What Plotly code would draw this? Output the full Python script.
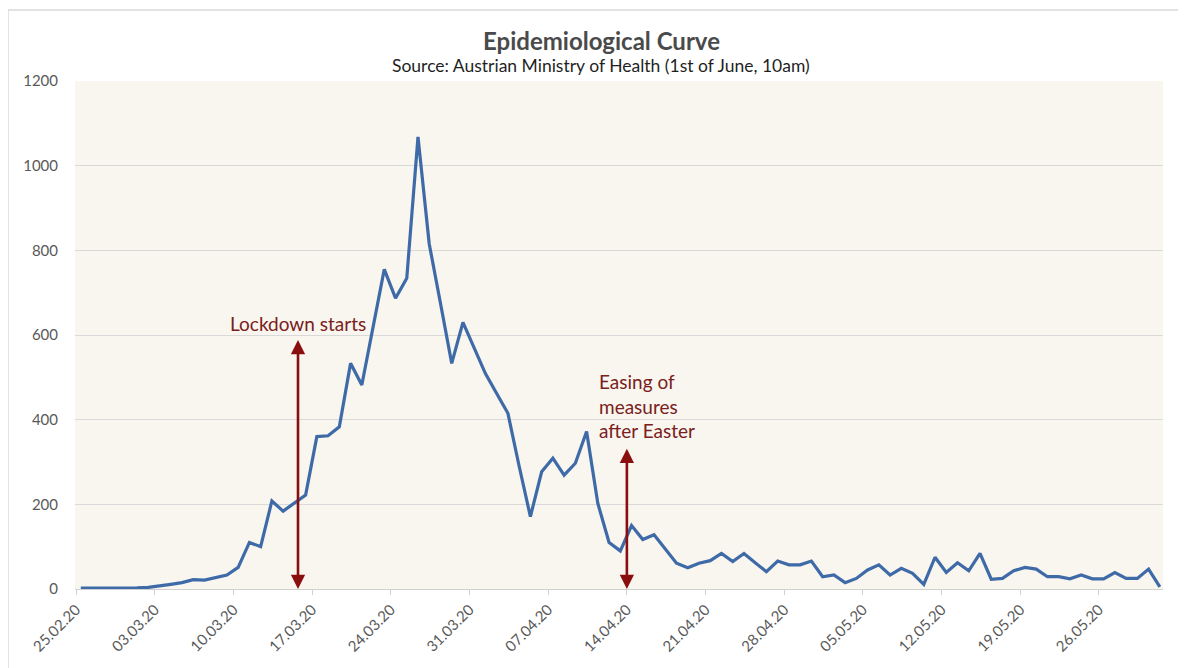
import plotly.graph_objects as go
import pandas as pd

start_date = "2020-02-25"
n_days = 97
cases = [2, 2, 2, 2, 3, 3, 4, 7, 11, 15, 22, 21, 27, 33, 51, 110, 100, 208, 184, 203,
         222, 360, 362, 383, 533, 482, 620, 755, 687, 734, 1068, 815, 675, 533, 630, 570,
         509, 462, 415, 290, 171, 277, 309, 269, 297, 372, 202, 110, 90, 150, 117, 128,
         95, 61, 50, 61, 67, 84, 65, 84, 62, 41, 66, 57, 57, 66, 29, 33, 15, 25, 45, 57,
         33, 49, 37, 11, 75, 39, 62, 43, 84, 23, 25, 43, 51, 47, 29, 29, 24, 33, 24, 24,
         39, 25, 25, 47, 5]
dates = pd.date_range(start_date, periods=n_days)

tick_labels = ["25.02.20", "03.03.20", "10.03.20", "17.03.20", "24.03.20", "31.03.20",
               "07.04.20", "14.04.20", "21.04.20", "28.04.20", "05.05.20", "12.05.20",
               "19.05.20", "26.05.20"]
# tick marks sit slightly before the day's data point, as in the original chart
tick_positions = [pd.to_datetime(t, format="%d.%m.%y") - pd.Timedelta(hours=10)
                  for t in tick_labels]

title_text = "Epidemiological Curve"
subtitle_text = "Source: Austrian Ministry of Health (1st of June, 10am)"
lockdown_date = "2020-03-15 07:45"
lockdown_top = 592
lockdown_label = "Lockdown starts"
easing_date = "2020-04-13 14:00"
easing_top = 335
easing_label = "Easing of<br>measures<br>after Easter"

line_color = "#3F6AA8"
arrow_color = "#8B0E0E"
label_color = "#7A2020"
font_family = "Lato, 'Noto Sans', sans-serif"

fig = go.Figure()
fig.add_trace(go.Scatter(x=dates, y=cases, mode="lines",
                         line=dict(color=line_color, width=3.2), showlegend=False,
                         hoverinfo="x+y"))

# arrows
for d, top in [(lockdown_date, lockdown_top), (easing_date, easing_top)]:
    fig.add_annotation(x=d, y=0, ax=d, ay=top, xref="x", yref="y", axref="x", ayref="y",
                       text="", showarrow=True, arrowhead=2, arrowside="end+start",
                       arrowsize=1.1, arrowwidth=2.6, arrowcolor=arrow_color)

fig.add_annotation(x=lockdown_date, y=628, xref="x", yref="y",
                   text=lockdown_label, showarrow=False, yanchor="middle",
                   font=dict(family=font_family, size=19, color=label_color))
fig.add_annotation(x="2020-04-10 22:00", y=432, xref="x", yref="y",
                   text=easing_label, showarrow=False, xanchor="left", yanchor="middle",
                   align="left",
                   font=dict(family=font_family, size=19, color=label_color))

# titles
fig.add_annotation(x=0.4835, y=1.079, xref="paper", yref="paper", text=title_text,
                   showarrow=False, yanchor="middle",
                   font=dict(family=font_family, size=24, color="#4A4A4A", weight="bold"))
fig.add_annotation(x=0.4835, y=1.031, xref="paper", yref="paper", text=subtitle_text,
                   showarrow=False, yanchor="middle",
                   font=dict(family=font_family, size=17.5, color="#1F1F1F"))

# outer chart border
fig.add_shape(type="rect", xref="paper", yref="paper", x0=-0.0616, x1=1.0165,
              y0=-0.2, y1=1.1398, line=dict(color="#D9D9D9", width=1.5),
              fillcolor="rgba(0,0,0,0)", layer="below")

fig.update_layout(
    width=1186, height=668,
    margin=dict(l=67, r=31, t=73, b=87),
    paper_bgcolor="white",
    plot_bgcolor="#F8F6EF",
    font=dict(family=font_family, size=15, color="#595959"),
    xaxis=dict(
        type="date",
        range=["2020-02-24 11:36", "2020-05-31 06:45"],
        tickmode="array", tickvals=tick_positions, ticktext=tick_labels,
        tickangle=-45,
        showgrid=False, zeroline=False,
        showline=True, linecolor="#D0D0D0", linewidth=1,
        ticks="outside", ticklen=5, tickcolor="#D0D0D0",
        tickfont=dict(size=15, color="#595959"),
        fixedrange=True,
    ),
    yaxis=dict(
        range=[0, 1200], dtick=200,
        showgrid=True, gridcolor="#D9D9D9", gridwidth=1,
        zeroline=False, showline=False,
        tickfont=dict(size=15, color="#595959"),
        ticklabelstandoff=16,
        fixedrange=True,
    ),
)

fig.write_html("out.html")
